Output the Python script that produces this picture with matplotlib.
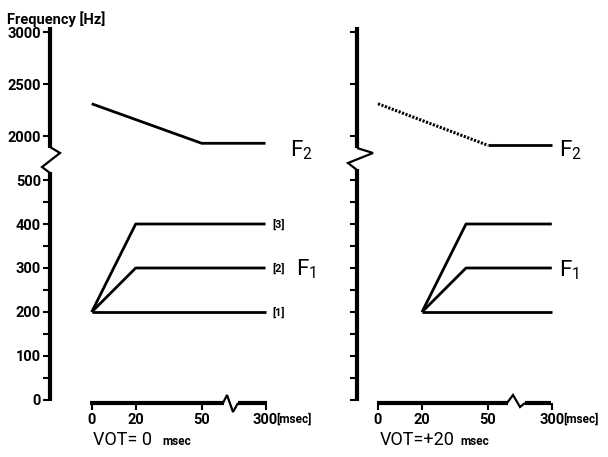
import numpy as np
import matplotlib
matplotlib.use('Agg')
import matplotlib.pyplot as plt
from matplotlib.transforms import Affine2D
from matplotlib.lines import Line2D

# ---------------- data ----------------
f2_time = [0, 50, 300]
left_f2 = [2310, 1930, 1930]
right_f2 = [2310, 1910, 1910]

left_f1_time = [0, 20, 300]
right_f1_time = [20, 40, 300]
f1_level3 = [200, 400, 400]
f1_level2 = [200, 300, 300]
f1_level1 = [200, 200, 200]
level_labels = ['[3]', '[2]', '[1]']

freq_major = [0, 100, 200, 300, 400, 500, 2000, 2500, 3000]
freq_major_labels = ['0', '100', '200', '300', '400', '500', '2000', '2500', '3000']
freq_minor = [50, 150, 250, 350, 450]
time_ticks = [0, 20, 50, 300]
time_labels = ['0', '20', '50', '300']

# ---------------- broken scales ----------------
FX = [-2000, 60, 300, 3000]
SX = [-2000, 60, 79, 79 + 2700 * 19 / 240]
FY = [-3000, 500, 1800, 6000]
SY = [-3000, 500, 552.7, 552.7 + 4200 * 0.23636]


def fwd_x(t):
    return np.interp(np.asarray(t, dtype=float), FX, SX)


def inv_x(s):
    return np.interp(np.asarray(s, dtype=float), SX, FX)


def fwd_y(f):
    return np.interp(np.asarray(f, dtype=float), FY, SY)


def inv_y(s):
    return np.interp(np.asarray(s, dtype=float), SY, FY)


W, H = 608, 457
fig = plt.figure(figsize=(W / 100, H / 100), dpi=100)
PX = Affine2D().scale(1, -1).translate(0, H)   # pixel coords from top-left

FONT = 'Roboto'
plt.rcParams['font.family'] = [FONT, 'DejaVu Sans']
plt.rcParams['mathtext.fontset'] = 'custom'
plt.rcParams['mathtext.rm'] = FONT


def make_axes(left_px, right_px, t0_px, labels=True):
    top_px, bot_px = 28, 403
    ax = fig.add_axes([left_px / W, 1 - bot_px / H,
                       (right_px - left_px) / W, (bot_px - top_px) / H])
    ax.set_xscale('function', functions=(fwd_x, inv_x))
    ax.set_yscale('function', functions=(fwd_y, inv_y))
    ax.set_xlim(float(inv_x((left_px - t0_px) / 2.2)), float(inv_x((right_px - t0_px) / 2.2)))
    ax.set_ylim(float(inv_y((400 - bot_px) / 0.44)), float(inv_y((400 - top_px) / 0.44)))
    ax.patch.set_visible(False)
    for s in ax.spines.values():
        s.set_visible(False)
    ax.set_yticks(freq_major)
    ax.set_yticks(freq_minor, minor=True)
    if labels:
        ax.set_yticklabels(freq_major_labels)
    else:
        ax.set_yticklabels([])
    ax.set_xticks(time_ticks)
    ax.set_xticks([], minor=True)
    ax.set_xticklabels(time_labels)
    ax.tick_params(axis='y', which='both', direction='out', length=5, width=1.5,
                   labelsize=10.5, pad=1.5, left=True, right=False)
    ax.tick_params(axis='x', which='both', direction='out', length=5, width=1.5,
                   labelsize=10.5, pad=2.5, bottom=True, top=False)
    for lab in ax.get_xticklabels() + ax.get_yticklabels():
        lab.set_fontweight('bold')
    ax.annotate('[msec]', xy=(300, 0), xycoords=('data', 'axes fraction'),
                xytext=(11, -16), textcoords='offset pixels', ha='left', va='center',
                fontsize=8.5, fontweight='bold')
    return ax


axL = make_axes(50, 300, 91.7, labels=True)
axR = make_axes(357, 605, 378, labels=False)

LW = 2.0
# Left panel
axL.plot(f2_time, left_f2, color='black', lw=LW, solid_capstyle='butt')
for lev, lab in zip([f1_level3, f1_level2, f1_level1], level_labels):
    axL.plot(left_f1_time, lev, color='black', lw=LW, solid_capstyle='butt')
    axL.annotate(lab, xy=(left_f1_time[-1], lev[-1]), xytext=(7, 0),
                 textcoords='offset pixels', ha='left', va='center',
                 fontsize=8, fontweight='bold')
axL.annotate(r'F$_2$', xy=(f2_time[-1], left_f2[-1]), xytext=(24, -13),
             textcoords='offset pixels', ha='left', va='baseline', fontsize=16)
axL.annotate(r'F$_1$', xy=(left_f1_time[-1], f1_level2[-1]), xytext=(31, -7),
             textcoords='offset pixels', ha='left', va='baseline', fontsize=16)

# Right panel
axR.plot(f2_time[:2], right_f2[:2], color='black', lw=2.2,
         linestyle=(0, (0.7, 0.5)), dash_capstyle='butt')
axR.plot(f2_time[1:], right_f2[1:], color='black', lw=LW, solid_capstyle='butt')
for lev in [f1_level3, f1_level2, f1_level1]:
    axR.plot(right_f1_time, lev, color='black', lw=LW, solid_capstyle='butt')
axR.annotate(r'F$_2$', xy=(f2_time[-1], right_f2[-1]), xytext=(7, -11),
             textcoords='offset pixels', ha='left', va='baseline', fontsize=16)
axR.annotate(r'F$_1$', xy=(right_f1_time[-1], f1_level2[-1]), xytext=(7, -8),
             textcoords='offset pixels', ha='left', va='baseline', fontsize=16)

# ---------------- broken axis lines (decoration, pixel coords) ----------------
def deco(xs, ys, lw):
    fig.add_artist(Line2D(xs, ys, transform=PX, color='black', lw=lw,
                          solid_capstyle='butt', solid_joinstyle='miter'))

AXW = 3.0
# left y axis
deco([50, 50], [27, 148], AXW)
deco([50, 60, 42, 50], [147, 153, 167, 173], 1.6)
deco([50, 50], [172, 401], AXW)
# right y axis
deco([357, 357], [27, 148], AXW)
deco([357, 373, 348, 357], [148, 153, 163, 170], 1.6)
deco([357, 357], [169, 401], AXW)
# left x axis
deco([90, 223.5], [403, 403], AXW)
deco([223, 227, 233, 238], [403, 395, 412, 403], 1.6)
deco([237.5, 267], [403, 403], AXW)
# right x axis
deco([377, 507.5], [403, 403], AXW)
deco([507, 513, 520, 525], [403, 395, 407, 403], 1.6)
deco([524.5, 551], [403, 403], AXW)

# ---------------- texts ----------------
fig.text(7, 19, 'Frequency [Hz]', transform=PX, fontsize=10.5, fontweight='bold',
         ha='left', va='center')
fig.text(93, 445, 'VOT= 0', transform=PX, fontsize=13, ha='left', va='baseline')
fig.text(162, 445, 'msec', transform=PX, fontsize=8.5, fontweight='bold',
         ha='left', va='baseline')
fig.text(380, 445, 'VOT=+20', transform=PX, fontsize=13, ha='left', va='baseline')
fig.text(460, 445, 'msec', transform=PX, fontsize=8.5, fontweight='bold',
         ha='left', va='baseline')

fig.savefig('out.png', dpi=100)
